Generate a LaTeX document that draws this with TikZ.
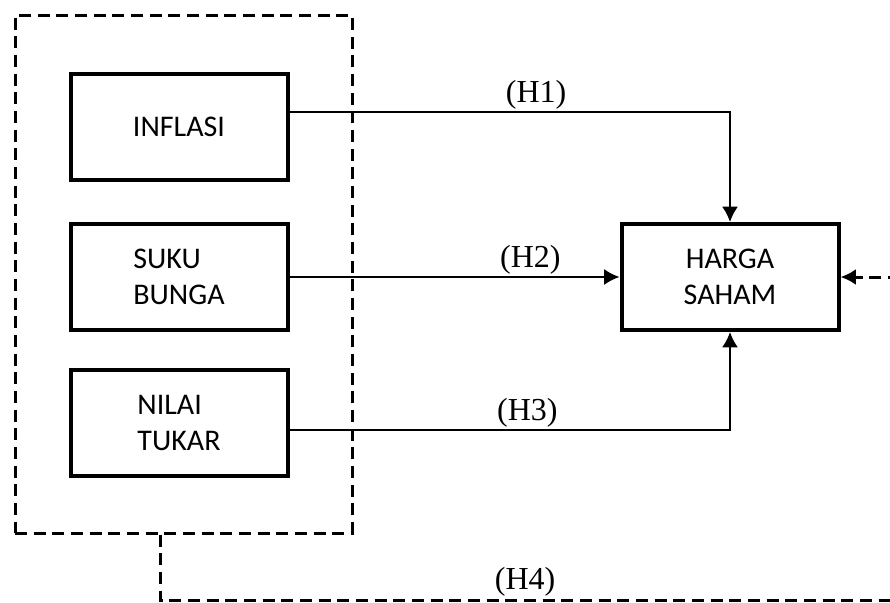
\documentclass[tikz,border=0pt]{standalone}
\usepackage{fontspec}
\setmainfont{Liberation Serif}
\newfontfamily\boxfont{Carlito}
\usetikzlibrary{positioning,arrows.meta}
\def\dx{247.5pt}
\def\dy{30pt}
\tikzstyle{var}=[draw,line width=3pt,minimum width=162.75pt,minimum height=79.5pt,
  font=\boxfont\fontsize{22.5}{27}\selectfont,align=left]
\tikzstyle{grp}=[draw,line width=2.25pt,dash pattern=on 9pt off 5pt,
  minimum width=252.75pt,minimum height=388.5pt]
\tikzstyle{hyp}=[line width=1.5pt]
\tikzstyle{grpline}=[line width=2.25pt,dash pattern=on 9pt off 5pt]
\tikzstyle{lbl}=[above,inner sep=1.5pt,font=\fontsize{24}{28}\selectfont]
\newcommand{\newVar}[4]{\node[var,#3](#1)[#4]{#2};}

\begin{document}
\begin{tikzpicture}[x=0.75pt,y=-0.75pt,node distance=\dy and \dx,
      >={Latex[length=11.5pt,width=12pt]}
      ]
      \useasboundingbox (0,0) rectangle (890,603);
      \newVar{infl}{INFLASI}{}{at={(179,127)}}
      \newVar{suku}{SUKU\\BUNGA}{}{below=of infl}
      \newVar{nilai}{NILAI\\TUKAR}{}{below=27pt of suku}
      \newVar{harga}{HARGA\\SAHAM}{align=center}{right=of suku}
      \node[grp](grp) at (183.5,274) {};
      % hipotesis
      \draw[hyp,->] ([yshift=11.25pt]infl.east) -| node[lbl,pos=0.28] {(H1)} (harga.north);
      \draw[hyp,->] (suku.east) -- node[lbl,pos=0.73] {(H2)} (harga.west);
      \draw[hyp,->] ([yshift=-5.25pt]nilai.east) -| node[lbl,pos=0.27] {(H3)} (harga.south);
      \coordinate (h4) at (160,600);
      \coordinate (h4end) at (905,600);
      \draw[grpline,->] (grp.south -| h4) -- (h4) -- node[lbl,pos=0.49] {(H4)} (h4end) |- (harga.east);
    \end{tikzpicture}
\end{document}
